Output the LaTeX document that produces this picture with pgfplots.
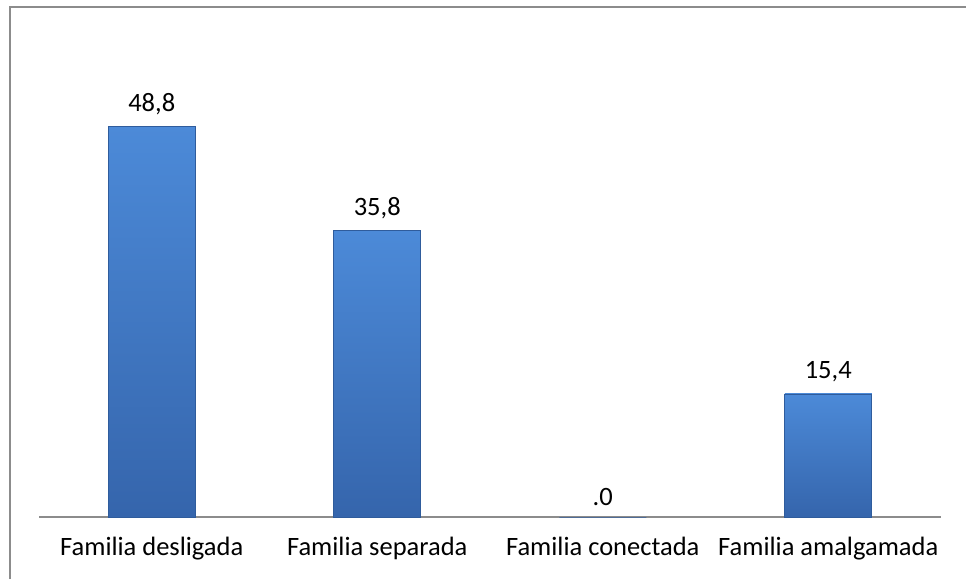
\documentclass[border=0pt]{standalone}
\usepackage{pgfplots}
\pgfplotsset{compat=1.18}
\usepackage{pgfplotstable}
\usepackage{fontspec}
\setmainfont{Carlito}
\definecolor{bartop}{HTML}{4C8AD8}
\definecolor{barbot}{HTML}{3565AC}
\definecolor{baredge}{HTML}{2F5C9C}
\definecolor{axisgray}{HTML}{8C8C8C}
\pgfplotstableread[col sep=space]{
x y lab
0 48.8 48,8
1 35.8 35,8
2 0.0 .0
3 15.4 15,4
}\mydata
\begin{document}
\begin{tikzpicture}[x=1pt,y=1pt]
\useasboundingbox (0,0) rectangle (966,579);
\fill[white] (0,0) rectangle (966,579);
\draw[axisgray, line width=2pt] (10,0) -- (10,572) -- (966,572);
\begin{axis}[
  at={(39pt,62pt)}, anchor=south west,
  scale only axis, width=902pt, height=480pt,
  xmin=-0.5, xmax=3.5, ymin=0, ymax=60,
  axis y line=none,
  axis x line*=bottom,
  x axis line style={axisgray, line width=2pt, -},
  xtick={0,1,2,3},
  xticklabels={Familia desligada, Familia separada, Familia conectada, Familia amalgamada},
  major tick length=0pt,
  xticklabel style={font=\fontsize{26.5}{30}\selectfont, yshift=-17pt},
  ytick=\empty,
  clip=false,
  nodes near coords,
  point meta=explicit symbolic,
  every node near coord/.append style={font=\fontsize{26.5}{30}\selectfont, yshift=8pt, text=black},
  barstyle/.style={ybar, bar width=87pt, bar shift=0pt, draw=baredge, line width=0.6pt,
    top color=bartop, bottom color=barbot},
]
\addplot[barstyle] table[x=x, y=y, meta=lab, skip coords between index={1}{4}] {\mydata};
\addplot[barstyle] table[x=x, y=y, meta=lab, skip coords between index={0}{1}, skip coords between index={2}{4}] {\mydata};
\addplot[barstyle] table[x=x, y=y, meta=lab, skip coords between index={0}{2}, skip coords between index={3}{4}] {\mydata};
\addplot[barstyle] table[x=x, y=y, meta=lab, skip coords between index={0}{3}] {\mydata};
\end{axis}
\end{tikzpicture}
\end{document}
